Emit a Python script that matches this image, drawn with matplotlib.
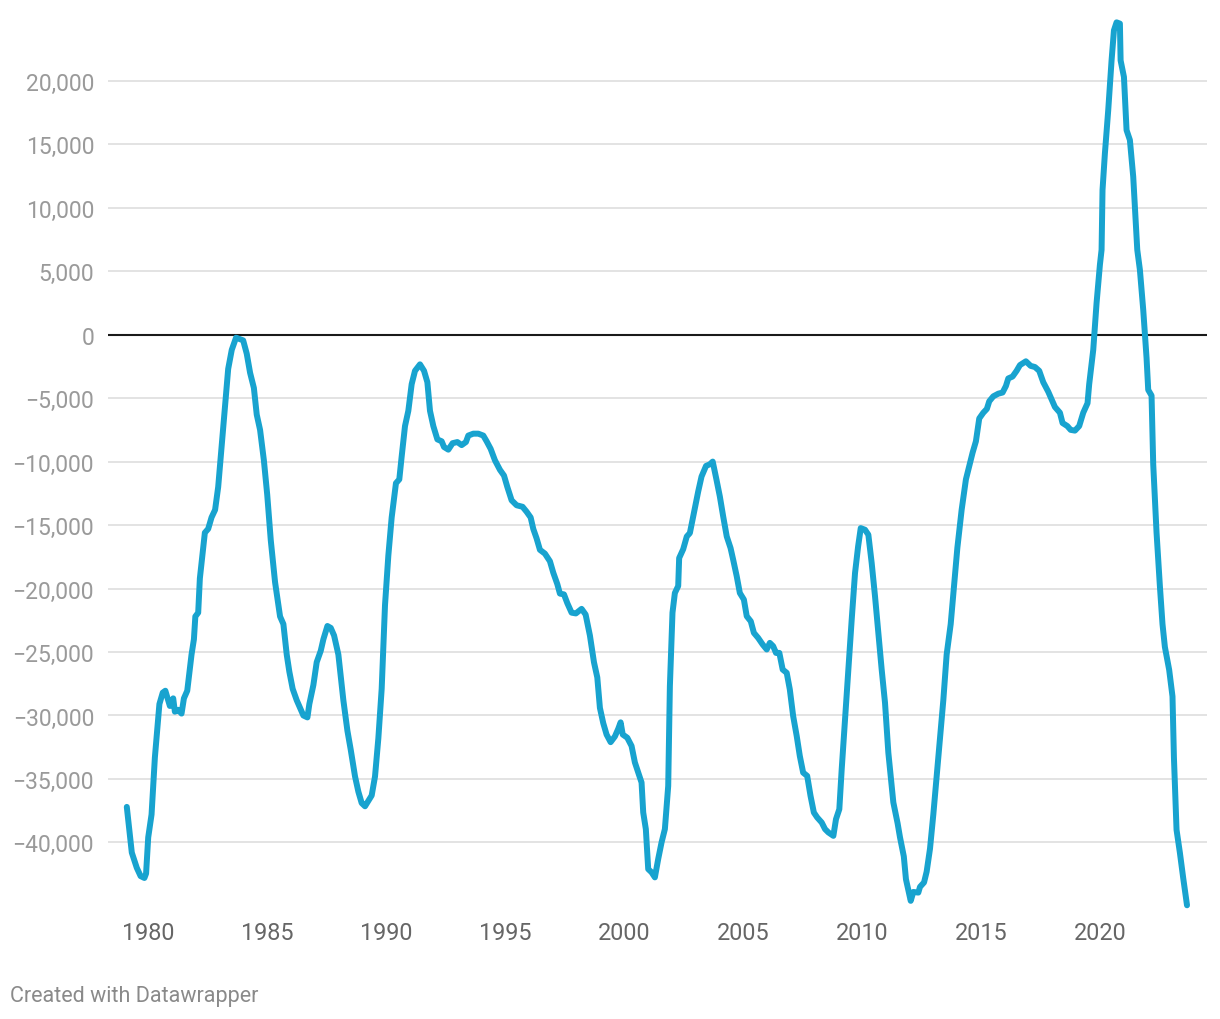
import matplotlib
matplotlib.use("Agg")
import matplotlib.pyplot as plt
from matplotlib.ticker import FuncFormatter

plt.rcParams['font.family'] = ['Roboto', 'DejaVu Sans']

years = [
    1979.11, 1979.32, 1979.53, 1979.69, 1979.85, 1979.92, 1980.01, 1980.15, 1980.29, 1980.48,
    1980.62, 1980.73, 1980.92, 1981.06, 1981.13, 1981.27, 1981.41, 1981.51, 1981.65, 1981.83,
    1981.93, 1981.99, 1982.11, 1982.18, 1982.32, 1982.39, 1982.53, 1982.67, 1982.82, 1982.95,
    1983.10, 1983.24, 1983.37, 1983.52, 1983.70, 1983.87, 1984.00, 1984.15, 1984.29, 1984.45,
    1984.57, 1984.71, 1984.87, 1985.01, 1985.16, 1985.34, 1985.55, 1985.69, 1985.83, 1985.94,
    1986.08, 1986.25, 1986.39, 1986.53, 1986.70, 1986.78, 1986.95, 1987.09, 1987.26, 1987.37,
    1987.54, 1987.68, 1987.82, 1988.00, 1988.21, 1988.38, 1988.52, 1988.70, 1988.84, 1988.98,
    1989.12, 1989.40, 1989.54, 1989.68, 1989.82, 1989.96, 1990.10, 1990.24, 1990.42, 1990.56,
    1990.66, 1990.80, 1990.94, 1991.08, 1991.22, 1991.43, 1991.60, 1991.74, 1991.85, 1991.99,
    1992.16, 1992.34, 1992.44, 1992.62, 1992.80, 1993.00, 1993.18, 1993.36, 1993.46, 1993.67,
    1993.88, 1994.09, 1994.23, 1994.40, 1994.58, 1994.79, 1994.96, 1995.10, 1995.28, 1995.49,
    1995.74, 1995.91, 1996.08, 1996.19, 1996.33, 1996.47, 1996.68, 1996.89, 1997.03, 1997.20,
    1997.31, 1997.48, 1997.62, 1997.80, 1997.98, 1998.22, 1998.39, 1998.57, 1998.74, 1998.88,
    1998.99, 1999.13, 1999.27, 1999.44, 1999.62, 1999.76, 1999.86, 1999.95, 2000.14, 2000.32,
    2000.46, 2000.60, 2000.74, 2000.81, 2000.92, 2001.02, 2001.16, 2001.30, 2001.44, 2001.58,
    2001.72, 2001.86, 2001.93, 2002.04, 2002.14, 2002.28, 2002.32, 2002.49, 2002.64, 2002.77,
    2002.94, 2003.12, 2003.26, 2003.45, 2003.61, 2003.73, 2003.89, 2004.03, 2004.17, 2004.32,
    2004.48, 2004.59, 2004.74, 2004.87, 2005.04, 2005.16, 2005.33, 2005.46, 2005.64, 2005.83,
    2006.00, 2006.13, 2006.27, 2006.39, 2006.53, 2006.67, 2006.84, 2006.97, 2007.11, 2007.26,
    2007.39, 2007.53, 2007.70, 2007.84, 2007.98, 2008.12, 2008.31, 2008.45, 2008.59, 2008.80,
    2008.91, 2009.05, 2009.15, 2009.29, 2009.43, 2009.57, 2009.71, 2009.84, 2009.95, 2010.13,
    2010.27, 2010.41, 2010.55, 2010.69, 2010.83, 2010.97, 2011.11, 2011.32, 2011.50, 2011.60,
    2011.76, 2011.85, 2012.05, 2012.16, 2012.37, 2012.44, 2012.61, 2012.72, 2012.86, 2013.00,
    2013.21, 2013.42, 2013.56, 2013.73, 2013.87, 2014.01, 2014.19, 2014.37, 2014.51, 2014.65,
    2014.79, 2014.93, 2015.10, 2015.25, 2015.35, 2015.52, 2015.73, 2015.91, 2016.05, 2016.15,
    2016.33, 2016.50, 2016.64, 2016.89, 2017.09, 2017.27, 2017.45, 2017.62, 2017.83, 2017.97,
    2018.11, 2018.32, 2018.43, 2018.63, 2018.77, 2018.95, 2019.13, 2019.30, 2019.48, 2019.55,
    2019.72, 2019.86, 2020.00, 2020.07, 2020.11, 2020.21, 2020.35, 2020.49, 2020.59, 2020.70,
    2020.84, 2020.87, 2021.01, 2021.12, 2021.26, 2021.40, 2021.57, 2021.68, 2021.82, 2021.96,
    2022.03, 2022.17, 2022.24, 2022.38, 2022.52, 2022.63, 2022.73, 2022.91, 2023.05, 2023.11,
    2023.22, 2023.36, 2023.50, 2023.66,
]

values = [
    -37200, -40800, -42000, -42650, -42800, -42450, -39600, -37800, -33300, -29100,
    -28200, -28050, -29250, -28650, -29700, -29550, -29850, -28650, -28050, -25200,
    -24000, -22200, -21900, -19200, -16800, -15600, -15300, -14400, -13800, -12000,
    -8700, -5700, -2700, -1200, -240, -360, -450, -1500, -3000, -4200,
    -6300, -7500, -9900, -12600, -16200, -19500, -22200, -22800, -25200, -26550,
    -27900, -28800, -29400, -30000, -30150, -29100, -27600, -25800, -24900, -24000,
    -22950, -23100, -23700, -25200, -28800, -31200, -32700, -34800, -36000, -36900,
    -37150, -36300, -34800, -31800, -27900, -21300, -17400, -14400, -11700, -11400,
    -9600, -7200, -6000, -3900, -2850, -2340, -2850, -3750, -6000, -7200,
    -8250, -8400, -8850, -9060, -8550, -8460, -8700, -8460, -7950, -7800,
    -7800, -7950, -8400, -9000, -9900, -10650, -11100, -12000, -13050, -13440,
    -13560, -13950, -14400, -15300, -16050, -16950, -17250, -17850, -18750, -19650,
    -20400, -20460, -21150, -21900, -21960, -21600, -22050, -23700, -25800, -27000,
    -29400, -30600, -31500, -32100, -31650, -31050, -30540, -31500, -31750, -32400,
    -33700, -34500, -35280, -37640, -38950, -42100, -42350, -42750, -41300, -40000,
    -38950, -35550, -27700, -21900, -20350, -19800, -17600, -16900, -15900, -15630,
    -14060, -12360, -11180, -10340, -10210, -10000, -11440, -12750, -14320, -15900,
    -16810, -17730, -19040, -20350, -20870, -22180, -22580, -23490, -23890, -24410,
    -24800, -24280, -24540, -25070, -25070, -26380, -26640, -27950, -30040, -31620,
    -33190, -34500, -34760, -36330, -37640, -38030, -38430, -38950, -39210, -39480,
    -38170, -37380, -34240, -30300, -26380, -22450, -18780, -16680, -15240, -15370,
    -15760, -17990, -20610, -23490, -26380, -29000, -32930, -36850, -38500, -39600,
    -41100, -42900, -44600, -43900, -43950, -43500, -43150, -42300, -40500, -37800,
    -33300, -28800, -25200, -22800, -19800, -16800, -13800, -11400, -10350, -9300,
    -8400, -6600, -6150, -5850, -5250, -4860, -4650, -4560, -4050, -3450,
    -3300, -2850, -2400, -2100, -2460, -2550, -2850, -3750, -4500, -5100,
    -5700, -6150, -6960, -7200, -7500, -7560, -7200, -6150, -5400, -3900,
    -1200, 2500, 5500, 6680, 11400, 14280, 17690, 21600, 23970, 24600,
    24500, 21600, 20300, 16110, 15330, 12440, 6680, 5110, 1965, -1830,
    -4350, -4800, -10200, -15600, -19800, -22800, -24600, -26400, -28500, -33300,
    -39000, -40800, -42800, -44950,
]

y_ticks = [20000, 15000, 10000, 5000, 0, -5000, -10000, -15000, -20000,
           -25000, -30000, -35000, -40000]
x_ticks = [1980, 1985, 1990, 1995, 2000, 2005, 2010, 2015, 2020]

W, H = 1220, 1020
fig = plt.figure(figsize=(W / 100, H / 100), dpi=100)
fig.patch.set_facecolor('white')
ax = fig.add_axes([108 / W, (H - 912) / H, (1207 - 108) / W, (912 - 17) / H])

ax.set_xlim(1978.32, 2024.5)
ax.set_ylim(-45400, 25100)

for t in y_ticks:
    if t == 0:
        continue
    ax.axhline(t, color='#e3e3e3', lw=1.4, zorder=1)
ax.axhline(0, color='#1a1a1a', lw=1.5, zorder=2)

ax.plot(years, values, color='#18a3cf', lw=4.3, solid_joinstyle='round',
        solid_capstyle='round', zorder=3)

for s in ax.spines.values():
    s.set_visible(False)

ax.set_yticks(y_ticks)
ax.yaxis.set_major_formatter(FuncFormatter(
    lambda v, p: ('\u2212' if v < 0 else '') + f"{abs(int(v)):,}"))
ax.set_xticks(x_ticks)
ax.set_xticklabels([str(x) for x in x_ticks])
ax.tick_params(axis='y', length=0, pad=10, labelsize=16.5, labelcolor='#9a9a9a')
ax.tick_params(axis='x', length=0, pad=7, labelsize=16.8, labelcolor='#666666')

fig.text(10 / W, 1 - 997 / H, 'Created with Datawrapper', fontsize=15.5,
         color='#8a8a8a', ha='left', va='center')

fig.savefig('out.png', dpi=100, facecolor='white')
